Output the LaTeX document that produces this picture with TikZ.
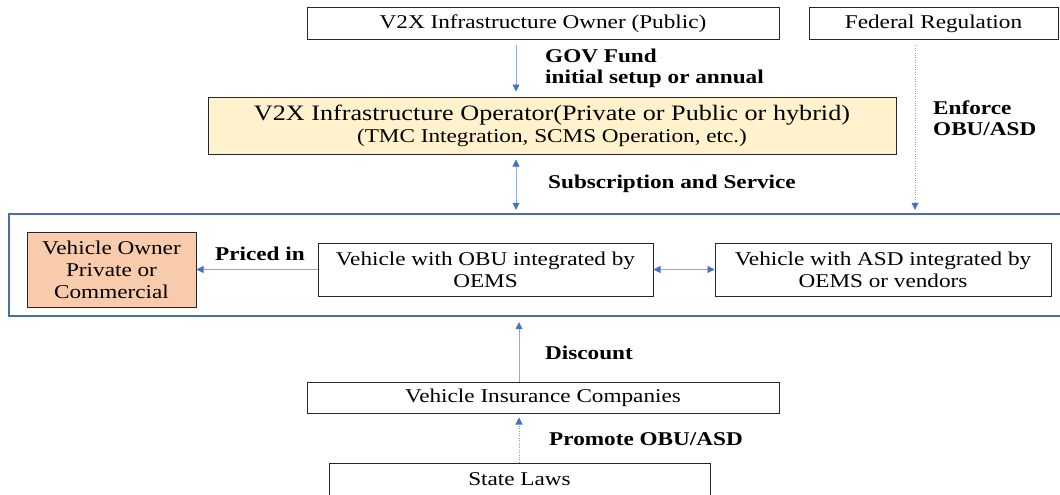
\documentclass[tikz,border=0pt]{standalone}
\usepackage{fontspec}
\setmainfont[FakeStretch=1.19]{Liberation Serif}
\usetikzlibrary{arrows.meta}
\definecolor{ablue}{HTML}{4472C4}
\definecolor{lblue}{HTML}{8FAADC}
\definecolor{framecol}{HTML}{4A6FA8}
\definecolor{yel}{HTML}{FFF2CC}
\definecolor{ora}{HTML}{F8CBAD}
\begin{document}
\begin{tikzpicture}[x=1pt,y=-1pt,
  box/.style={draw=black!85, line width=1pt, inner sep=0pt, align=center,
    font=\fontsize{19.5}{22}\selectfont},
  lab/.style={font=\fontsize{19.5}{21}\selectfont\bfseries, align=left, anchor=west, inner sep=0pt},
  tip/.style={-{Triangle[length=7pt,width=7pt,color=ablue]}},
  conn/.style={draw=lblue, line width=0.8pt, tip},
  dconn/.style={draw=lblue, line width=0.8pt, {Triangle[length=7pt,width=7pt,color=ablue]}-{Triangle[length=7pt,width=7pt,color=ablue]}},
  dots/.style={draw=ablue!70, line width=0.8pt, dash pattern=on 0.8pt off 1.6pt, tip}]
\useasboundingbox (0,0) rectangle (1060,495);
% nodes
\node[box, minimum width=472pt, minimum height=32pt] (owner) at (543,24) {V2X Infrastructure Owner (Public)};
\node[box, minimum width=249pt, minimum height=32pt] (fed) at (933.5,24) {Federal Regulation};
\node[box, fill=yel, minimum width=688pt, minimum height=57pt] (oper) at (552,125.5)
  {{\fontsize{22}{23}\selectfont V2X Infrastructure Operator(Private or Public or hybrid)}\\(TMC Integration, SCMS Operation, etc.)};
\node[draw=none, minimum width=1054pt, minimum height=102pt, inner sep=0pt] (frame) at (536,265) {};
\draw[framecol, line width=2.2pt] (frame.north east) -- (frame.north west) -- (frame.south west) -- (frame.south east);
\node[box, fill=ora, minimum width=169pt, minimum height=75pt] (vown) at (111.5,269.5) {Vehicle Owner\\Private or\\Commercial};
\node[box, minimum width=335pt, minimum height=53pt] (obu) at (485.5,269.5) {Vehicle with OBU integrated by\\OEMS};
\node[box, minimum width=336pt, minimum height=53pt] (asd) at (883,269.5) {Vehicle with ASD integrated by\\OEMS or vendors};
\node[box, minimum width=472pt, minimum height=31pt] (ins) at (543,397.5) {Vehicle Insurance Companies};
\node[box, minimum width=381pt, minimum height=32pt] (state) at (519.5,479) {State Laws};
% helper coordinates
\coordinate (gx) at (516,0);
\coordinate (fx) at (915,0);
\coordinate (dx) at (519,0);
% connectors
\draw[conn, shorten <=5pt, shorten >=5pt] (owner.south -| gx) -- (oper.north -| gx);
\draw[dconn, shorten <=5pt, shorten >=4pt] (oper.south -| gx) -- (frame.north -| gx);
\draw[dots, shorten <=5pt, shorten >=4pt] (fed.south -| fx) -- (frame.north -| fx);
\draw[conn] (obu.west) -- (vown.east);
\draw[dconn] (obu.east) -- (asd.west);
\draw[conn, shorten >=6pt] (ins.north -| dx) -- (frame.south -| dx);
\draw[dots, shorten >=4pt] (state.north -| dx) -- (ins.south -| dx);
% labels
\node[lab] (lgov) at (545,68.5) {GOV Fund\\initial setup or annual};
\node[lab] (lenf) at (933,118.5) {Enforce\\OBU/ASD};
\node[lab] (lsub) at (548,184) {Subscription and Service};
\node[lab] (lpri) at (215,254) {Priced in};
\node[lab] (ldis) at (545,353) {Discount};
\node[lab] (lpro) at (549,439) {Promote OBU/ASD};
\end{tikzpicture}
\end{document}
